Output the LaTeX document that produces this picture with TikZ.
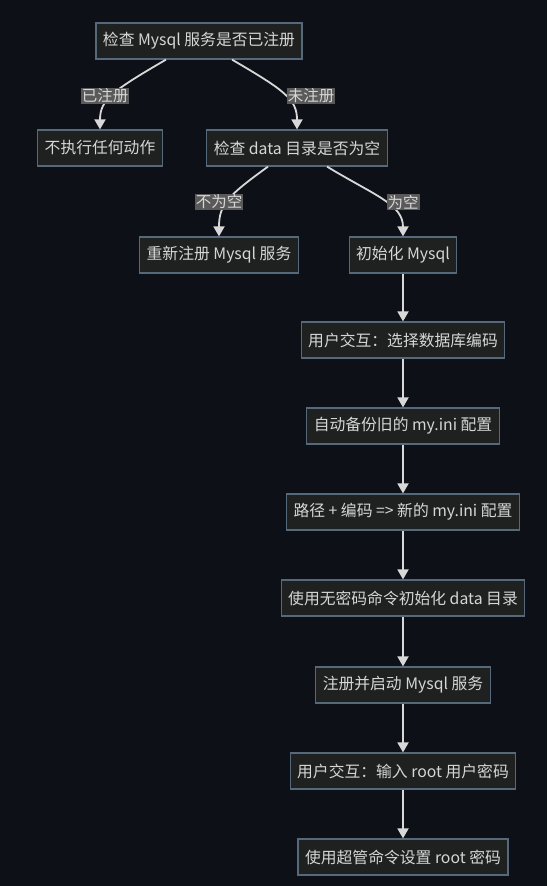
\documentclass[tikz,border=0pt]{standalone}
\usepackage{fontspec}
\setmainfont{Noto Sans CJK SC}
\usepackage{tikz}
\usetikzlibrary{arrows.meta,positioning}
\definecolor{pagebg}{HTML}{0D1117}
\definecolor{boxfill}{HTML}{1F2020}
\definecolor{boxline}{HTML}{55697A}
\definecolor{lblfill}{HTML}{5A5A5A}
\definecolor{inktext}{HTML}{D6D6D6}
\definecolor{flowline}{HTML}{D8D8D8}
\tikzset{
    stepbox/.style={draw=boxline, line width=1.2pt, fill=boxfill, text=inktext,
        minimum height=36pt, inner xsep=7pt, inner ysep=0pt,
        font=\fontsize{15.8}{18}\selectfont},
    edgelbl/.style={fill=lblfill, text=inktext, inner sep=1pt,
        font=\fontsize{15.5}{18}\selectfont},
    flow/.style={draw=flowline, line width=1.8pt,
        -{Triangle[length=10pt,width=11pt]}}
}
\begin{document}
\begin{tikzpicture}[x=1pt,y=1pt]
    \fill[pagebg] (0,0) rectangle (547,-886);
    \useasboundingbox (0,0) rectangle (547,-886);
    % top decision
    \node[stepbox] (chk)  at (199,-41)  {检查 Mysql 服务是否已注册};
    \node[stepbox] (none) at (100,-148) {不执行任何动作};
    \node[stepbox] (data) at (297,-148) {检查 data 目录是否为空};
    \node[stepbox] (reg)  at (219,-255) {重新注册 Mysql 服务};
    \node[stepbox] (init) at (403,-255) {初始化 Mysql};
    % main chain
    \node[stepbox] (enc)  at (403,-340) {用户交互：选择数据库编码};
    \node[stepbox] (bak)  at (403,-426) {自动备份旧的 my.ini 配置};
    \node[stepbox] (cfg)  at (403,-512) {路径 + 编码 => 新的 my.ini 配置};
    \node[stepbox] (ddir) at (403,-598) {使用无密码命令初始化 data 目录};
    \node[stepbox] (svc)  at (403,-685) {注册并启动 Mysql 服务};
    \node[stepbox] (pwd)  at (403,-771) {用户交互：输入 root 用户密码};
    \node[stepbox] (root) at (403,-857) {使用超管命令设置 root 密码};

    \draw[flow] ([xshift=-33pt]chk.south) .. controls +(-53,-31) and +(0,30) .. (none.north);
    \draw[flow] ([xshift=33pt]chk.south) .. controls +(53,-31) and +(0,30) .. (data.north);
    \draw[flow] ([xshift=-29pt]data.south) .. controls +(-40,-29) and +(0,32) .. (reg.north);
    \draw[flow] ([xshift=30pt]data.south) .. controls +(48,-29) and +(0,32) .. (init.north);
    \draw[flow] (init) -- (enc);
    \draw[flow] (enc) -- (bak);
    \draw[flow] (bak) -- (cfg);
    \draw[flow] (cfg) -- (ddir);
    \draw[flow] (ddir) -- (svc);
    \draw[flow] (svc) -- (pwd);
    \draw[flow] (pwd) -- (root);

    % edge labels
    \node[edgelbl] (lyes)   at (105,-96)  {已注册};
    \node[edgelbl] (lno)    at (311,-96)  {未注册};
    \node[edgelbl] (lfull)  at (219,-202) {不为空};
    \node[edgelbl] (lempty) at (403,-202) {为空};
\end{tikzpicture}
\end{document}
